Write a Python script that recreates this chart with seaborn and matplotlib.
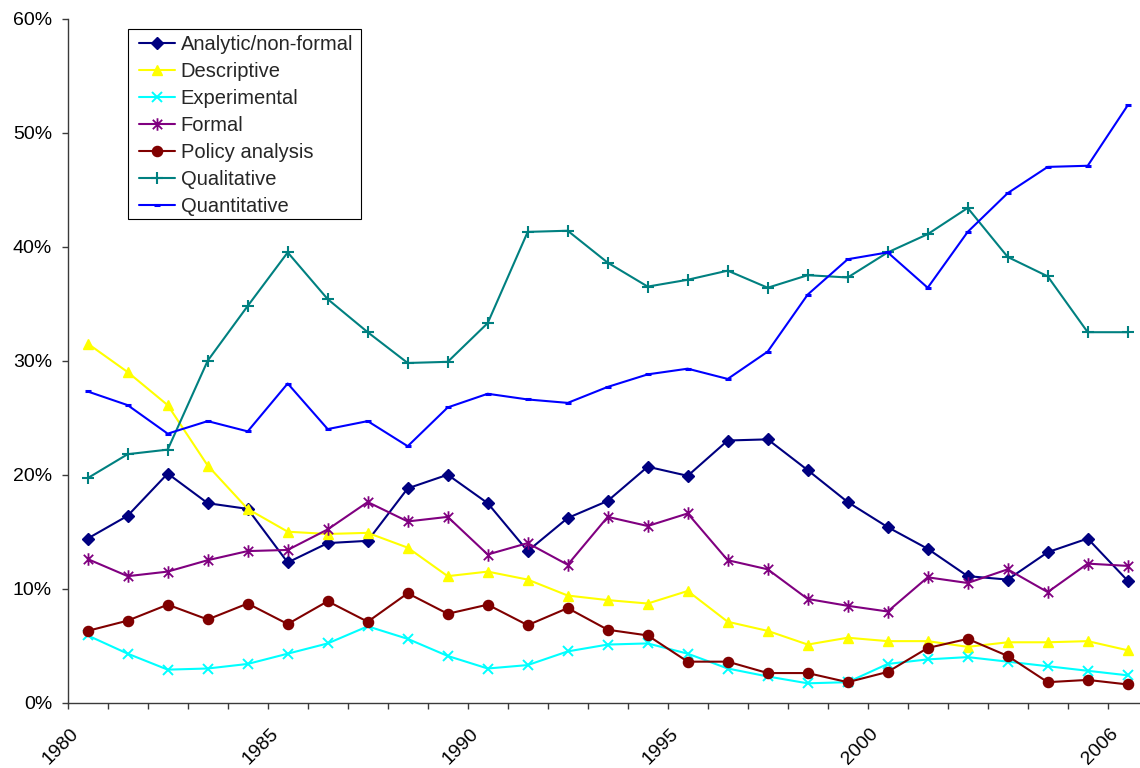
import matplotlib
matplotlib.use("Agg")
import matplotlib.pyplot as plt
import matplotlib.transforms as mtransforms
from matplotlib.patches import Rectangle
from matplotlib.path import Path
from matplotlib.ticker import FixedLocator, FuncFormatter
import seaborn as sns

# Share of published articles by method, 1980-2006 (percent)
years = [1980, 1981, 1982, 1983, 1984, 1985, 1986, 1987, 1988, 1989,
         1990, 1991, 1992, 1993, 1994, 1995, 1996, 1997, 1998, 1999,
         2000, 2001, 2002, 2003, 2004, 2005, 2006]

analytic = [14.4, 16.4, 20.1, 17.5, 17.0, 12.3, 14.0, 14.2, 18.8, 20.0,
            17.5, 13.3, 16.2, 17.7, 20.7, 19.9, 23.0, 23.1, 20.4, 17.6,
            15.4, 13.5, 11.1, 10.8, 13.2, 14.4, 10.7]
descriptive = [31.5, 29.0, 26.1, 20.8, 17.0, 15.0, 14.8, 14.9, 13.6, 11.1,
               11.5, 10.8, 9.4, 9.0, 8.7, 9.8, 7.1, 6.3, 5.1, 5.7,
               5.4, 5.4, 4.9, 5.3, 5.3, 5.4, 4.6]
experimental = [5.9, 4.3, 2.9, 3.0, 3.4, 4.3, 5.2, 6.7, 5.6, 4.1,
                3.0, 3.3, 4.5, 5.1, 5.2, 4.3, 3.0, 2.3, 1.7, 1.8,
                3.4, 3.8, 4.0, 3.6, 3.2, 2.8, 2.4]
formal = [12.6, 11.1, 11.5, 12.5, 13.3, 13.4, 15.2, 17.6, 15.9, 16.3,
          13.0, 14.0, 12.1, 16.3, 15.5, 16.6, 12.5, 11.7, 9.1, 8.5,
          8.0, 11.0, 10.5, 11.7, 9.7, 12.2, 12.0]
policy = [6.3, 7.2, 8.6, 7.3, 8.7, 6.9, 8.9, 7.1, 9.6, 7.8,
          8.6, 6.8, 8.3, 6.4, 5.9, 3.6, 3.6, 2.6, 2.6, 1.8,
          2.7, 4.8, 5.6, 4.1, 1.8, 2.0, 1.6]
qualitative = [19.7, 21.8, 22.2, 30.0, 34.8, 39.5, 35.4, 32.5, 29.8, 29.9,
               33.3, 41.3, 41.4, 38.6, 36.5, 37.1, 37.9, 36.4, 37.5, 37.3,
               39.5, 41.1, 43.4, 39.1, 37.4, 32.5, 32.5]
quantitative = [27.3, 26.1, 23.6, 24.7, 23.8, 28.0, 24.0, 24.7, 22.5, 25.9,
                27.1, 26.6, 26.3, 27.7, 28.8, 29.3, 28.4, 30.8, 35.8, 38.9,
                39.5, 36.4, 41.3, 44.7, 47.0, 47.1, 52.4]

series_names = ["Analytic/non-formal", "Descriptive", "Experimental", "Formal",
                "Policy analysis", "Qualitative", "Quantitative"]
series_values = [analytic, descriptive, experimental, formal,
                 policy, qualitative, quantitative]

labeled_years = [1980, 1985, 1990, 1995, 2000, 2006]
y_ticks = [0, 10, 20, 30, 40, 50, 60]

# Excel-like asterisk: an "x" crossed by a vertical bar
asterisk = Path([(0, -1), (0, 1), (-0.75, -0.75), (0.75, 0.75),
                 (-0.75, 0.75), (0.75, -0.75)],
                [Path.MOVETO, Path.LINETO] * 3)

styles = [
    dict(color="#000080", marker="D", markersize=5.8, markeredgewidth=1.0),
    dict(color="#FFFF00", marker="^", markersize=7.8, markeredgewidth=1.0),
    dict(color="#00FFFF", marker="x", markersize=6.5, markeredgewidth=1.4),
    dict(color="#800080", marker=asterisk, markersize=9.0, markeredgewidth=1.3),
    dict(color="#800000", marker="o", markersize=7.3, markeredgewidth=1.0),
    dict(color="#008080", marker="+", markersize=8.5, markeredgewidth=1.5),
    dict(color="#0000FF", marker="_", markersize=4.0, markeredgewidth=2.2),
]

sns.set_style("ticks")
plt.rcParams["font.family"] = ["Liberation Sans", "DejaVu Sans"]

W, H, DPI = 1140, 768, 100
fig = plt.figure(figsize=(W / DPI, H / DPI), dpi=DPI)

# plot area in pixels: left spine at x=67.7, bottom spine at y=702.7, top (60%) at y=18.7
left_px, bottom_px, top_px, cat_px = 67.7, 702.7, 18.7, 40.0
ax = fig.add_axes([left_px / W, (H - bottom_px) / H,
                   (W - left_px) / W, (bottom_px - top_px) / H])

for name, vals, st in zip(series_names, series_values, styles):
    sns.lineplot(x=years, y=vals, ax=ax, label=name, linewidth=1.5,
                 color=st["color"], marker=st["marker"],
                 markersize=st["markersize"], markeredgewidth=st["markeredgewidth"],
                 markeredgecolor=st["color"], markerfacecolor=st["color"],
                 legend=False)

# categorical x axis: each year sits in the middle of a 1-unit slot
x0 = years[0] - 0.5
ax.set_xlim(x0, x0 + (W - left_px) / cat_px)
ax.set_ylim(0, 60)

ax.yaxis.set_major_locator(FixedLocator(y_ticks))
ax.yaxis.set_major_formatter(FuncFormatter(lambda v, p: f"{v:.0f}%"))

ax.set_xticks(labeled_years, [str(y) for y in labeled_years],
              rotation=45, ha="right", va="center", rotation_mode="anchor")
ax.xaxis.set_minor_locator(FixedLocator([y - 0.5 for y in years]))

axis_color = "#3a3a3a"
ax.tick_params(axis="x", which="major", length=0, pad=20.5, labelsize=14,
               labelcolor="black")
ax.tick_params(axis="x", which="minor", length=4.3, width=1.0, direction="out",
               color=axis_color)
ax.tick_params(axis="y", which="major", length=4.3, width=1.0, direction="out",
               pad=7.0, labelsize=14, color=axis_color, labelcolor="black")

shift = mtransforms.ScaledTranslation(-12 / DPI, 0, fig.dpi_scale_trans)
for lab in ax.get_xticklabels():
    lab.set_transform(lab.get_transform() + shift)

for side in ["top", "right"]:
    ax.spines[side].set_visible(False)
for side in ["left", "bottom"]:
    ax.spines[side].set_color(axis_color)
    ax.spines[side].set_linewidth(1.0)
ax.grid(False)
ax.set_xlabel("")
ax.set_ylabel("")

# legend box drawn as a plain rectangle, entries placed inside it
box_l, box_t, box_r, box_b = 128.3, 28.7, 360.7, 219.3
ax.add_patch(Rectangle((box_l / W, 1 - box_b / H), (box_r - box_l) / W,
                       (box_b - box_t) / H, transform=fig.transFigure,
                       facecolor="white", edgecolor="black", linewidth=0.8,
                       clip_on=False, zorder=4))
handles, labels = ax.get_legend_handles_labels()
leg = ax.legend(handles, labels, loc="upper left",
                bbox_to_anchor=(139.3 / W, 1 - 35.0 / H),
                bbox_transform=fig.transFigure, frameon=False,
                borderpad=0, borderaxespad=0, handlelength=1.75,
                handletextpad=0.3, labelspacing=0.40, fontsize=14.5)
leg.set_zorder(5)

fig.savefig("out.png", dpi=DPI)
